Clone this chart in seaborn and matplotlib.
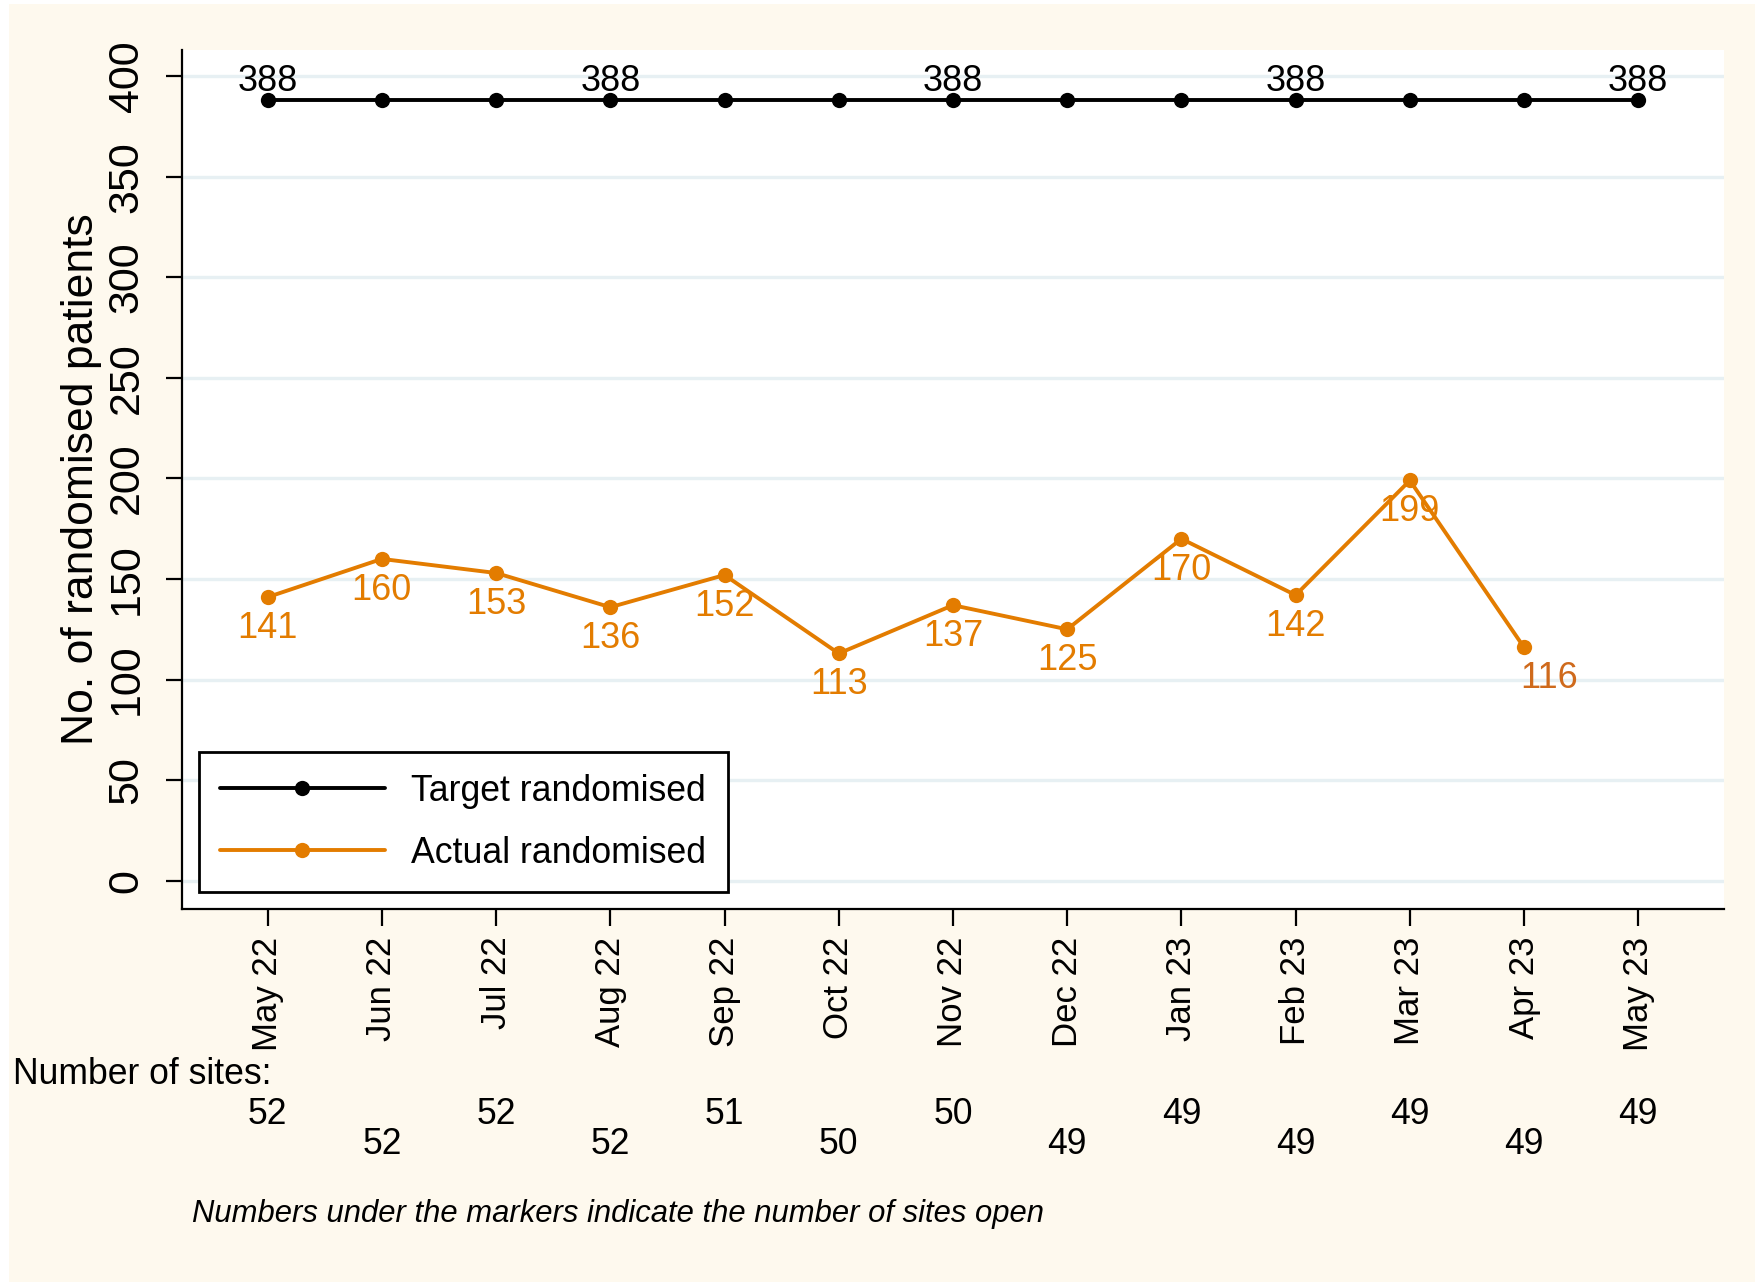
import numpy as np
import pandas as pd
import seaborn as sns
import matplotlib.pyplot as plt
import matplotlib.transforms as mtransforms
from matplotlib.patches import Rectangle
from matplotlib.lines import Line2D

# Data
months = ['May 22', 'Jun 22', 'Jul 22', 'Aug 22', 'Sep 22', 'Oct 22', 'Nov 22',
          'Dec 22', 'Jan 23', 'Feb 23', 'Mar 23', 'Apr 23', 'May 23']
target = [388, 388, 388, 388, 388, 388, 388, 388, 388, 388, 388, 388, 388]
actual = [141, 160, 153, 136, 152, 113, 137, 125, 170, 142, 199, 116]
sites = [52, 52, 52, 52, 51, 50, 50, 49, 49, 49, 49, 49, 49]
target_label_idx = [0, 3, 6, 9, 12]

black = '#000000'
orange = '#e37c00'
cream = '#fef9ee'
grid_col = '#e7f0f3'

sns.set_theme(style='white')
plt.rcParams['font.family'] = ['Liberation Sans', 'DejaVu Sans']
plt.rcParams['text.color'] = black
plt.rcParams['axes.labelcolor'] = black
plt.rcParams['xtick.color'] = black
plt.rcParams['ytick.color'] = black

# long format for seaborn
df_t = pd.DataFrame({'pos': range(len(target)), 'value': target, 'series': 'Target randomised'})
df_a = pd.DataFrame({'pos': range(len(actual)), 'value': actual, 'series': 'Actual randomised'})
df = pd.concat([df_t, df_a], ignore_index=True)

fig = plt.figure(figsize=(17.55, 12.82), dpi=100, facecolor='white')
fig.patches.append(Rectangle((9 / 1755, 0), 1, 1 - 4 / 1282, transform=fig.transFigure,
                             facecolor=cream, edgecolor='none', zorder=-10))
ax = fig.add_axes([0.1037, 0.291, 0.8786, 0.670])
ax.set_facecolor('white')

sns.lineplot(data=df, x='pos', y='value', hue='series',
             palette={'Target randomised': black, 'Actual randomised': orange},
             marker='o', markersize=11, markeredgewidth=0, linewidth=2.8,
             legend=False, ax=ax, zorder=3)

# value labels
for i in target_label_idx:
    ax.annotate(str(target[i]), (i, target[i]), xytext=(0, 1), textcoords='offset points',
                ha='center', va='bottom', fontsize=26, color=black, zorder=4)
for i, v in enumerate(actual):
    if i == len(actual) - 1:
        ax.annotate(str(v), (i, v), xytext=(18, -10), textcoords='offset points',
                    ha='center', va='top', fontsize=26, color='#cf6a1c', zorder=4)
    else:
        ax.annotate(str(v), (i, v), xytext=(0, -10), textcoords='offset points',
                    ha='center', va='top', fontsize=26, color=orange, zorder=4)

ax.set_xlim(-0.75, 12.75)
ax.set_ylim(-14, 413)
ax.set_xticks(range(len(months)))
ax.set_xticklabels(months, rotation=90, fontsize=25)
ax.set_yticks(range(0, 401, 50))
ax.set_yticklabels([str(t) for t in range(0, 401, 50)], rotation=90, va='center', fontsize=31)
ax.tick_params(axis='x', length=12, width=1.6, pad=8, color=black, bottom=True)
ax.tick_params(axis='y', length=11.5, width=1.6, pad=14, color=black, left=True)
ax.set_xlabel('')
ax.set_ylabel('No. of randomised patients', fontsize=32)
ax.yaxis.set_label_coords(-0.052, 0.5)

ax.yaxis.grid(True, color=grid_col, linewidth=2.4)
ax.xaxis.grid(False)
ax.set_axisbelow(True)
sns.despine(ax=ax)
for s in ['left', 'bottom']:
    ax.spines[s].set_color(black)
    ax.spines[s].set_linewidth(1.6)

# legend
handles = [Line2D([0], [0], color=black, lw=2.8, marker='o', ms=11, mew=0),
           Line2D([0], [0], color=orange, lw=2.8, marker='o', ms=11, mew=0)]
leg = ax.legend(handles, ['Target randomised', 'Actual randomised'], loc='lower left',
                bbox_to_anchor=(0.011, 0.0198), borderaxespad=0, fontsize=25.7,
                handlelength=4.6, handletextpad=0.75, labelspacing=0.75, borderpad=0.6,
                frameon=True, fancybox=False, framealpha=1)
leg.get_frame().set_edgecolor(black)
leg.get_frame().set_linewidth(2)
leg.set_zorder(5)

# number of sites below the axis
trans = mtransforms.blended_transform_factory(ax.transData, fig.transFigure)
fig.text(0.0074, 0.1615, 'Number of sites:', ha='left', va='center', fontsize=25.6)
for i, n in enumerate(sites):
    y = 0.131 if i % 2 == 0 else 0.1076
    ax.text(i, y, str(n), transform=trans, ha='center', va='center', fontsize=25.6, clip_on=False)

fig.text(0.1094, 0.053, 'Numbers under the markers indicate the number of sites open',
         ha='left', va='center', fontsize=22.3, style='italic')

fig.savefig('out.png', dpi=100, facecolor=fig.get_facecolor())
